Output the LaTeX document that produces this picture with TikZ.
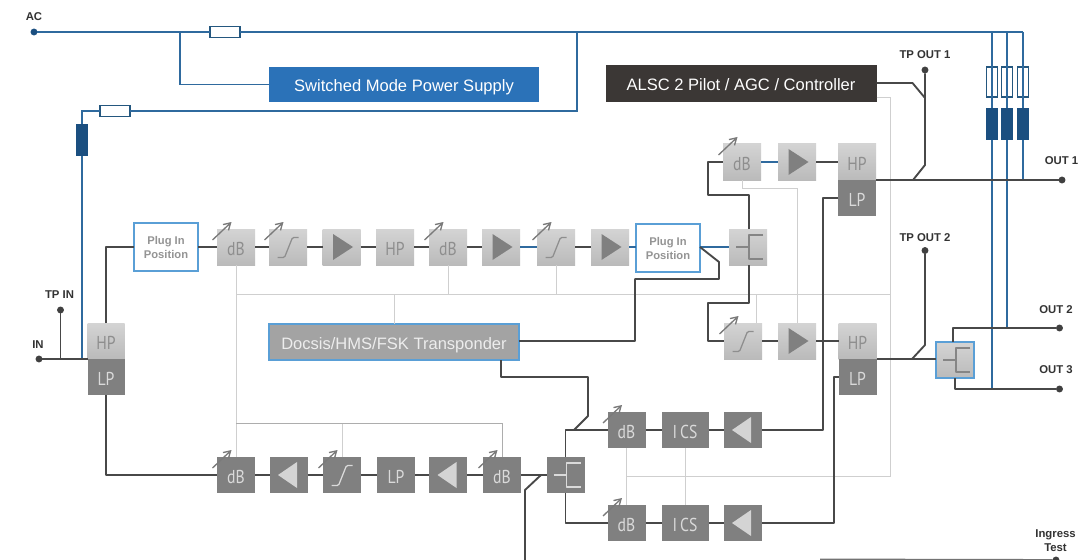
\documentclass[tikz,border=0pt]{standalone}
\usepackage{fontspec}
\setmainfont{Liberation Sans}
\newfontfamily\boxfont[FakeStretch=0.84]{PT Sans}
\usetikzlibrary{arrows.meta,calc}
\definecolor{sigc}{HTML}{484848}
\definecolor{bluec}{HTML}{2F6A9E}
\definecolor{lightc}{HTML}{CFCFCF}
\definecolor{darkblue}{HTML}{1B4F80}
\definecolor{fusec}{HTML}{24577F}
\definecolor{boxdark}{HTML}{808080}
\definecolor{boxtxt}{HTML}{8E8E8E}
\definecolor{darktxt}{HTML}{DADADA}
\definecolor{frameblue}{HTML}{5A9FD6}
\tikzset{
  x=0.75pt,y=-0.75pt,
  blk/.style={inner sep=0pt,outer sep=0pt,text=boxtxt,text height=12.8pt,text depth=0pt,font=\boxfont\fontsize{14}{14}\selectfont},
  lbox/.style={blk,minimum height=36*0.75pt,top color=black!17,bottom color=black!27,text=boxtxt},
  dbox/.style={blk,minimum height=36*0.75pt,fill=boxdark,text=darktxt},
  wide/.style={minimum width=38*0.75pt},
  plug/.style={draw=frameblue,line width=1.3pt,fill=white,inner sep=0pt,outer sep=0pt,minimum width=64*0.75pt,minimum height=48*0.75pt,align=center,text=black!42,font=\bfseries\fontsize{8.4}{10.5}\selectfont},
  title/.style={inner sep=0pt,outer sep=0pt,text=white,text height=10.5pt,text depth=0pt,font=\fontsize{12.4}{14}\selectfont},
  fusebox/.style={draw=fusec,line width=1.1pt,fill=white,inner sep=0pt,outer sep=0pt},
  blockb/.style={fill=darkblue,inner sep=0pt,outer sep=0pt},
  lab/.style={inner sep=0pt,text=black!80,align=center,font=\bfseries\fontsize{8.5}{10.5}\selectfont},
  pin/.style={circle,fill=black!75,inner sep=0pt,minimum size=5.2pt,outer sep=0pt},
  pinb/.style={circle,fill=darkblue,inner sep=0pt,minimum size=5.2pt,outer sep=0pt},
  sig/.style={draw=sigc,line width=1.4pt,line join=round},
  pow/.style={draw=bluec,line width=1.4pt,line join=miter},
  ctl/.style={draw=lightc,line width=0.75pt},
  adj/.style={draw=black!52,line width=1pt,-{Straight Barb[length=5pt,width=6pt]}},
  sym/.style={line width=0.95pt,line join=round}
}
% variable-adjust arrow over a box
\newcommand{\adjarrow}[1]{\draw[adj] ($(#1.center)+(-23.5,-7)$) -- ($(#1.center)+(-4.5,-25)$);}
% S curve symbol
\newcommand{\scurve}[2]{\draw[sym,draw=#2,rounded corners=1pt] ($(#1.center)+(-10.5,10.5)$) -- ($(#1.center)+(-3.5,10.5)$) -- ($(#1.center)+(4.5,-9.5)$) -- ($(#1.center)+(10.5,-9.5)$);}
% right / left triangles
\newcommand{\trir}[2]{\fill[#2] ($(#1.center)+(-8.5,-13)$) -- ($(#1.center)+(11.5,0)$) -- ($(#1.center)+(-8.5,13)$) -- cycle;}
\newcommand{\tril}[2]{\fill[#2] ($(#1.center)+(8.5,-13)$) -- ($(#1.center)+(-10.5,0)$) -- ($(#1.center)+(8.5,13)$) -- cycle;}
% splitter symbol
\newcommand{\splitsym}[2]{\draw[sym,draw=#2] ($(#1.center)+(-12,0)$) -- ($(#1.center)+(1,0)$) ($(#1.center)+(15,-12)$) -- ($(#1.center)+(1,-12)$) -- ($(#1.center)+(1,12)$) -- ($(#1.center)+(15,12)$);}
\begin{document}
\begin{tikzpicture}
\useasboundingbox (0,0) rectangle (1090,560);
\fill[white] (0,0) rectangle (1090,560);

% ---------- title boxes
\node[title,minimum width=270*0.75pt,minimum height=35*0.75pt,fill={rgb,255:red,43;green,114;blue,184}] (smps) at (404,84.5) {Switched Mode Power Supply};
\node[title,minimum width=271*0.75pt,minimum height=37*0.75pt,fill={rgb,255:red,59;green,55;blue,53}] (alsc) at (741,83.5) {ALSC 2 Pilot / AGC / Controller};
\node[title,draw=frameblue,line width=1.3pt,minimum width=250*0.75pt,minimum height=36*0.75pt,fill=black!36,text=white!93!black] (docsis) at (394,342) {Docsis/HMS/FSK Transponder};

% ---------- input
\node[lbox,minimum width=37*0.75pt] (hpin) at (106,341) {HP};
\node[dbox,minimum width=37*0.75pt] (lpin) at (106,377) {LP};
\node[plug] (plugA) at (166,247) {Plug In\\Position};

% ---------- upper chain (y=247)
\node[lbox,wide] (dbA) at (236,247) {dB};
\node[lbox,wide] (sA) at (288,247) {};
\node[lbox,wide] (ampA) at (341.5,247) {};
\node[lbox,wide] (hpA) at (395,247) {HP};
\node[lbox,wide] (dbB) at (448,247) {dB};
\node[lbox,wide] (ampB) at (501,247) {};
\node[lbox,wide] (sB) at (556,247) {};
\node[lbox,wide] (ampC) at (610,247) {};
\node[plug] (plugB) at (668,248) {Plug In\\Position};
\node[lbox,wide] (splitA) at (748,247) {};

% ---------- output 1 chain
\node[lbox,wide] (dbC) at (742,162) {dB};
\node[lbox,wide] (ampD) at (797,162) {};
\node[lbox,wide] (hpOne) at (857,162) {HP};
\node[dbox,wide] (lpOne) at (857,198) {LP};

% ---------- output 2 chain
\node[lbox,wide] (sC) at (743,341) {};
\node[lbox,wide] (ampE) at (797,341) {};
\node[lbox,wide] (hpTwo) at (857.5,341) {HP};
\node[dbox,wide] (lpTwo) at (857.5,377) {LP};
\node[lbox,wide,draw=frameblue,line width=1.3pt] (splitB) at (955,360) {};

% ---------- lower chain (y=475)
\node[dbox,wide] (dbD) at (236,475) {dB};
\node[dbox,wide] (ampF) at (288.5,475) {};
\node[dbox,wide] (sD) at (342,475) {};
\node[dbox,wide] (lpA) at (396,475) {LP};
\node[dbox,wide] (ampG) at (448,475) {};
\node[dbox,wide] (dbE) at (502,475) {dB};
\node[dbox,wide] (splitC) at (565.5,475) {};

% ---------- return chains
\node[dbox,wide] (dbF) at (626.5,430) {dB};
\node[dbox,minimum width=47*0.75pt] (icsA) at (685,430) {I\,CS};
\node[dbox,wide] (ampH) at (742.5,430) {};
\node[dbox,wide] (dbG) at (626.5,523) {dB};
\node[dbox,minimum width=47*0.75pt] (icsB) at (685,523) {I\,CS};
\node[dbox,wide] (ampI) at (742.5,523) {};

% ---------- fuses, blocks, pins, labels
\node[pinb] (ac) at (34,32) {};
\node[lab] (acl) at (34,16.5) {AC};
\node[fusebox,minimum width=30*0.75pt,minimum height=11*0.75pt] (fuseA) at (225,32) {};
\node[fusebox,minimum width=30*0.75pt,minimum height=11*0.75pt] (fuseB) at (115,111) {};
\node[blockb,minimum width=12.5*0.75pt,minimum height=32*0.75pt] (blockA) at (82,140) {};
\foreach \n/\xx in {P/992,Q/1007,R/1023}{
  \node[fusebox,minimum width=11.5*0.75pt,minimum height=30*0.75pt] (fuse\n) at (\xx,82) {};
  \node[blockb,minimum width=12.5*0.75pt,minimum height=32*0.75pt] (block\n) at (\xx,124.5) {};
}
\node[pin] (in) at (39,359) {};
\node[lab] (inl) at (38,345) {IN};
\node[pin] (tpin) at (60.5,310) {};
\node[lab] (tpinl) at (59.5,295) {TP IN};
\node[pin] (tpo1) at (925,70) {};
\node[lab] (tpo1l) at (925,55) {TP OUT 1};
\node[pin] (tpo2) at (925,250.5) {};
\node[lab] (tpo2l) at (925,237.5) {TP OUT 2};
\node[pin] (out1) at (1062,180) {};
\node[lab] (out1l) at (1061.5,161) {OUT 1};
\node[pin] (out2) at (1059.5,328) {};
\node[lab] (out2l) at (1056,310) {OUT 2};
\node[pin] (out3) at (1059.5,389) {};
\node[lab] (out3l) at (1056,370) {OUT 3};
\node[pin] (ing) at (1056,560) {};
\node[lab] (ingl) at (1055.5,541) {Ingress\\Test};

% ---------- symbols
\foreach \n in {sA,sB,sC}{\scurve{\n}{boxtxt}}
\scurve{sD}{darktxt}
\foreach \n in {ampA,ampB,ampC,ampD,ampE}{\trir{\n}{boxdark}}
\foreach \n in {ampF,ampG,ampH,ampI}{\tril{\n}{black!17}}
\splitsym{splitA}{black!48}
\splitsym{splitB}{black!48}
\splitsym{splitC}{darktxt}
\foreach \n in {dbA,sA,dbB,sB,dbC,sC,dbD,sD,dbE,dbF,dbG}{\adjarrow{\n}}

% ---------- control wiring (light)
\coordinate (ctlTL) at (dbA.south |- 0,294.5);
\coordinate (ctlTR) at (890.5,294.5);
\coordinate (ctlBR) at (890.5,476.5);
\coordinate (ctlBL) at (dbF.south |- 0,476.5);
\coordinate (ctlLow) at (dbA.south |- 0,423.5);
\draw[ctl] (alsc.east |- 0,97.5) -| (ctlBR) -- (ctlBL);
\draw[ctl] (ctlTL) -- (ctlTR);
\draw[ctl] (dbA.south) -- (dbD.north);
\draw[ctl] (dbB.south) -- (dbB.south |- ctlTL);
\draw[ctl] (sB.south) -- (sB.south |- ctlTL);
\draw[ctl] (docsis.north) -- (docsis.north |- ctlTL);
\draw[ctl] (sC.north -| 756,0) -- (756,294.5);
\draw[ctl] (dbC.south) |- (ampE.north |- 0,188) -- (ampE.north);
\draw[ctl,draw=black!32] (ctlLow) -- (dbE.north |- ctlLow) -- (dbE.north);
\draw[ctl] (sD.north) -- (sD.north |- ctlLow);
\draw[ctl] (dbF.south) -- (dbG.north);
\draw[ctl] (icsA.south) -- (icsB.north);

% ---------- power wiring (blue)
\coordinate (acEnd) at (blockR |- ac);
\coordinate (retTop) at (577,32);
\draw[pow] (ac) -- (fuseA.west);
\draw[pow] (fuseA.east) -- (acEnd);
\draw[pow] (180,32) |- (smps.west);
\draw[pow] (retTop) |- (fuseB.east);
\draw[pow] (fuseB.west) -| (blockA.north);
\draw[pow] (blockA.south) -- (blockA.south |- in);
\foreach \n in {P,Q,R}{
  \draw[pow] (fuse\n.north |- ac) -- (fuse\n.north);
  \draw[pow] (fuse\n.south) -- (block\n.north);
  \draw[pow] (fuse\n.center) ++(0,-15) -- ++(0,30);
}
\draw[pow] (blockP.south) -- (blockP.south |- out3);
\draw[pow] (blockQ.south) -- (blockQ.south |- out2);
\draw[pow] (blockR.south) -- (blockR.south |- out1);
\draw[pow] (ampB.east) -- (sB.west);
\draw[pow] (ampC.east) -- (plugB.west |- ampC);
\draw[pow] (plugB.east |- splitA) -- (splitA.west);
\draw[pow] (dbC.east) -- (ampD.west);

% ---------- signal wiring (dark)
\draw[sig] (in) -- (hpin.south west);
\draw[sig] (tpin) -- (tpin |- in);
\draw[sig] (hpin.north) |- (plugA.west);
\draw[sig] (lpin.south) |- (dbD.west);
\draw[sig] (plugA.east |- dbA) -- (dbA.west);
\draw[sig] (dbA.east) -- (sA.west);
\draw[sig] (sA.east) -- (ampA.west);
\draw[sig] (ampA.east) -- (hpA.west);
\draw[sig] (hpA.east) -- (dbB.west);
\draw[sig] (dbB.east) -- (ampB.west);
\draw[sig] (sB.east) -- (ampC.west);
\draw[sig] (splitA.north -| 749,0) -- (749,195) -| (708,162) -- (dbC.west);
\draw[sig] (splitA.south -| 749,0) -- (749,303) -| (708,341) -- (sC.west);
\draw[sig] (ampD.east) -- (hpOne.west);
\draw[sig] (sC.east) -- (ampE.west);
\draw[sig] (ampE.east) -- (hpTwo.west);
\draw[sig] (lpOne.west) -| (823,430) -- (ampH.east);
\draw[sig] (lpTwo.west) -| (834,523) -- (ampI.east);
\draw[sig] (hpOne.south east) -- (out1);
\draw[sig] (hpTwo.south east) -- (splitB.west |- hpTwo.south east);
\draw[sig] (splitB.north -| 953,0) |- (out2);
\draw[sig] (splitB.south) |- (out3);
\draw[sig] (alsc.east |- 0,83) -- (912.5,83) -- (925,98);
\draw[sig] (tpo1) -- (925,165) -- (913,180);
\draw[sig] (tpo2) -- (925,345) -- (912,359);
\draw[sig] (plugB.east |- splitA) -- (719,262) -- (719,279) -- (635,279) -- (635,341) -- (docsis.east |- 0,341);
\draw[sig] (docsis.south -| 501,0) |- (588,377) -- (588,416) -- (574,430);
\draw[sig] (splitC.north) |- (dbF.west);
\draw[sig] (splitC.south) |- (dbG.west);
\draw[sig] (dbF.east) -- (icsA.west);
\draw[sig] (icsA.east) -- (ampH.west);
\draw[sig] (dbG.east) -- (icsB.west);
\draw[sig] (icsB.east) -- (ampI.west);
\draw[sig] (dbD.east) -- (ampF.west);
\draw[sig] (ampF.east) -- (sD.west);
\draw[sig] (sD.east) -- (lpA.west);
\draw[sig] (lpA.east) -- (ampG.west);
\draw[sig] (ampG.east) -- (dbE.west);
\draw[sig] (dbE.east) -- (splitC.west);
\draw[sig] (541,475) -- (525,490) -- (525,560);
\draw[sig,draw=black!55] (820,559.5) -- (ing);
\end{tikzpicture}
\end{document}
